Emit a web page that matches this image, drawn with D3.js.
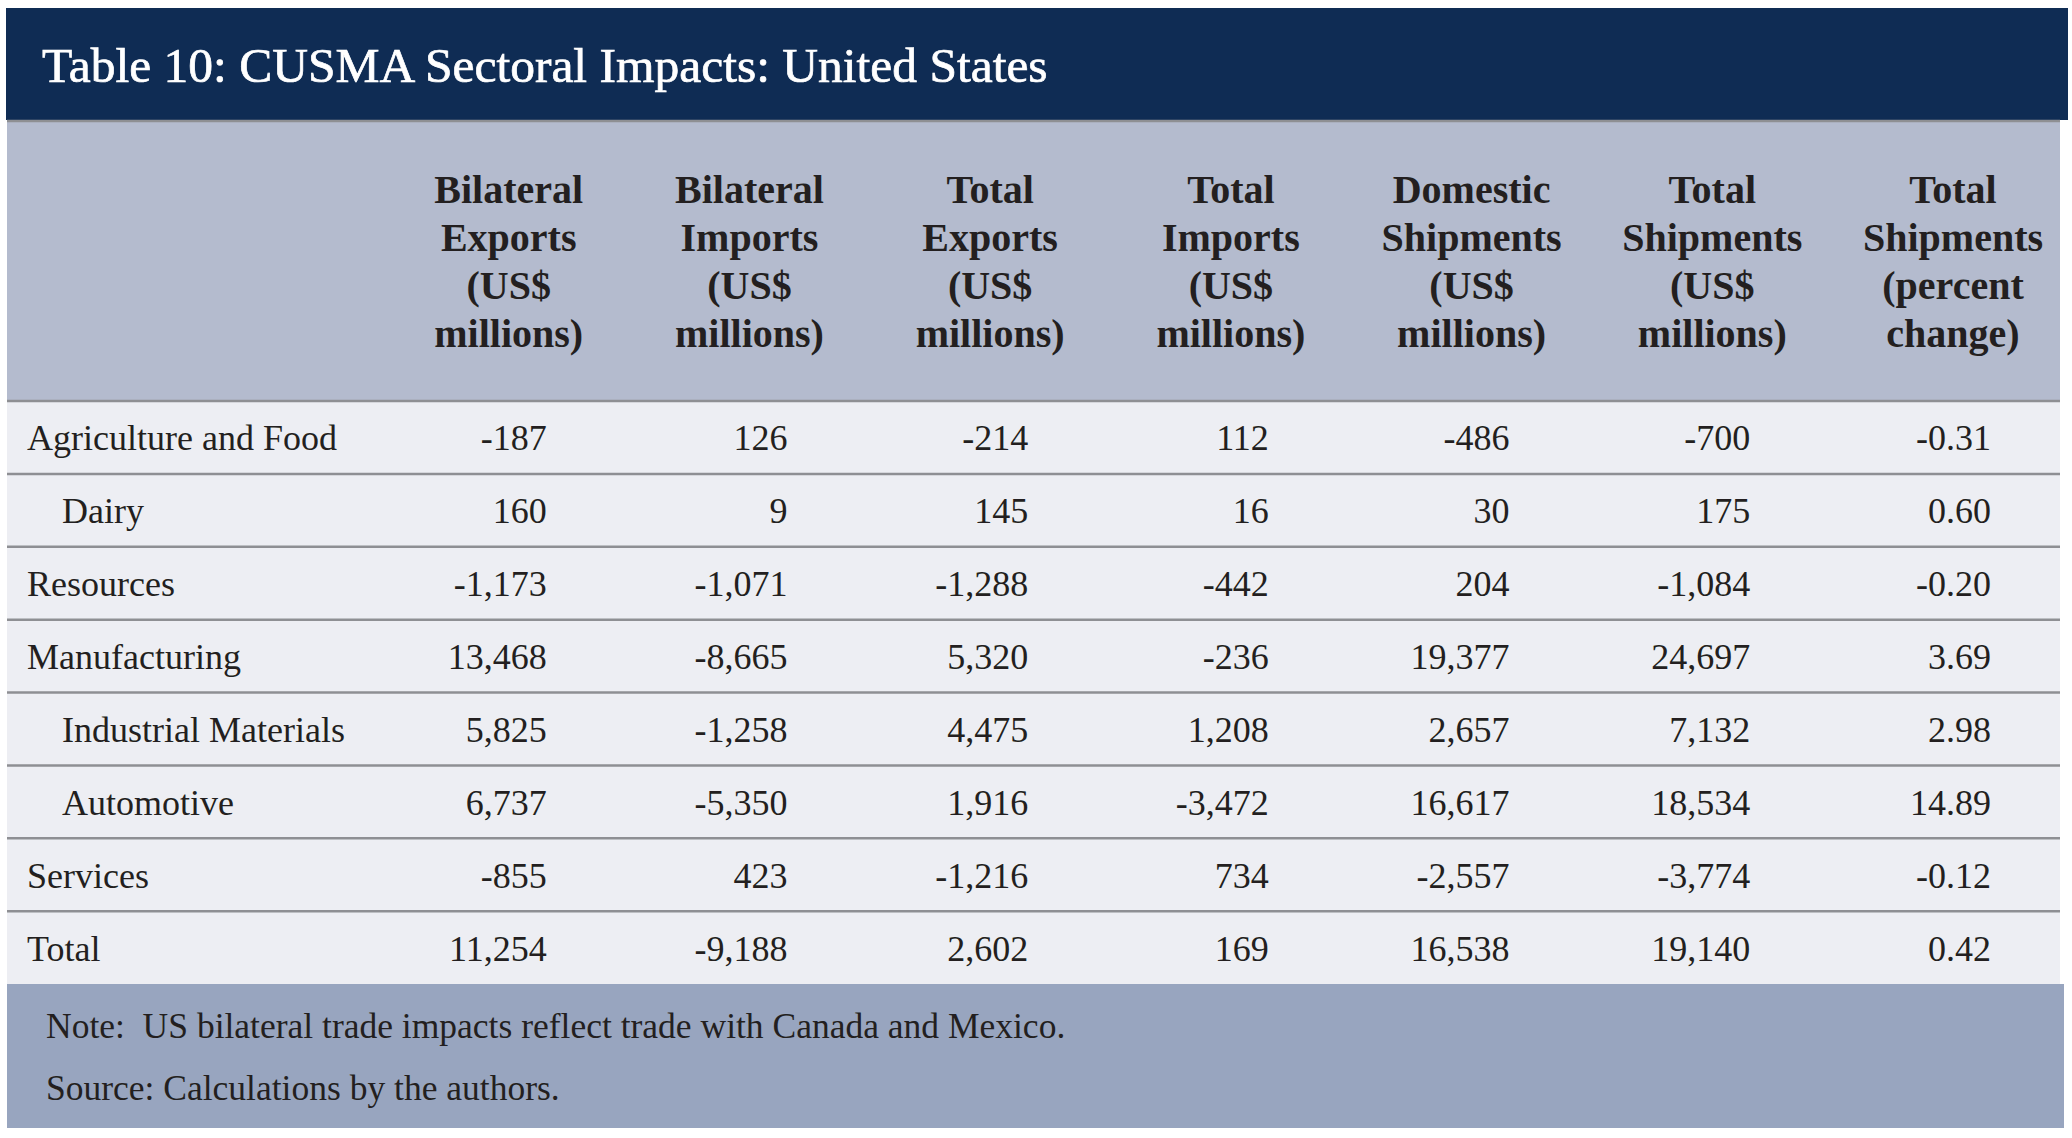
<!DOCTYPE html>
<html>
<head>
<meta charset="utf-8">
<script src="https://cdn.jsdelivr.net/npm/d3@7"></script>
<style>
  body { margin: 0; background: #fff; }
  svg { display: block; font-family: "Liberation Serif", "DejaVu Serif", serif; }
</style>
</head>
<body>
<svg></svg>
<script>
const title = "Table 10: CUSMA Sectoral Impacts: United States";

const sectors = ["Agriculture and Food", "Dairy", "Resources", "Manufacturing",
                 "Industrial Materials", "Automotive", "Services", "Total"];
const subSectors = ["Dairy", "Industrial Materials", "Automotive"];

const columns = ["bilExp", "bilImp", "totExp", "totImp", "domShip", "totShip", "pctShip"];
const headers = [
    ["Bilateral", "Exports", "(US$", "millions)"],
    ["Bilateral", "Imports", "(US$", "millions)"],
    ["Total", "Exports", "(US$", "millions)"],
    ["Total", "Imports", "(US$", "millions)"],
    ["Domestic", "Shipments", "(US$", "millions)"],
    ["Total", "Shipments", "(US$", "millions)"],
    ["Total", "Shipments", "(percent", "change)"]
];

const bilExp  = [-187, 160, -1173, 13468, 5825, 6737, -855, 11254];
const bilImp  = [126, 9, -1071, -8665, -1258, -5350, 423, -9188];
const totExp  = [-214, 145, -1288, 5320, 4475, 1916, -1216, 2602];
const totImp  = [112, 16, -442, -236, 1208, -3472, 734, 169];
const domShip = [-486, 30, 204, 19377, 2657, 16617, -2557, 16538];
const totShip = [-700, 175, -1084, 24697, 7132, 18534, -3774, 19140];
const pctShip = [-0.31, 0.60, -0.20, 3.69, 2.98, 14.89, -0.12, 0.42];

const notes = [
    "Note:  US bilateral trade impacts reflect trade with Canada and Mexico.",
    "Source: Calculations by the authors."
];

const W = 2072, H = 1138;
const svg = d3.select("svg")
    .attr("width", W)
    .attr("height", H);

const series = {bilExp, bilImp, totExp, totImp, domShip, totShip, pctShip};
// keep the plain hyphen for negatives, as the source does
const loc = d3.formatLocale({decimal: ".", thousands: ",", grouping: [3], currency: ["$", ""], minus: "-"});
const fmtInt = loc.format(","), fmtPct = loc.format(".2f");

const ink = "#231f20", rule = "#8e8f93";
const left = 7, right = 2060;

// title bar
svg.append("rect")
    .attr("x", 6).attr("y", 8)
    .attr("width", 2062).attr("height", 112)
    .attr("fill", "#0f2c54");

svg.append("text")
    .attr("x", 42).attr("y", 82)
    .attr("fill", "#fff")
    .attr("stroke", "#fff")
    .attr("stroke-width", 0.7)
    .attr("font-size", 49.5)
    .text(title);

// header
svg.append("rect")
    .attr("x", left).attr("y", 120)
    .attr("width", right - left).attr("height", 280)
    .attr("fill", "#b4bbce");

const x = d3.scaleBand()
    .domain(columns)
    .range([306, 1991]);

const y = d3.scaleBand()
    .domain(sectors)
    .range([401, 984]);

const hLine = d3.scaleLinear().domain([0, 3]).range([203, 347]);

svg.append("g")
    .selectAll("text")
    .data(columns)
    .join("text")
    .attr("text-anchor", "middle")
    .attr("font-weight", "bold")
    .attr("font-size", 40)
    .attr("fill", ink)
    .each(function(c, i) {
        d3.select(this).selectAll("tspan")
            .data(headers[i])
            .join("tspan")
            .attr("x", x(c) + x.bandwidth() - 38)
            .attr("y", (d, j) => hLine(j))
            .text(d => d);
    });

// body
svg.append("rect")
    .attr("x", left).attr("y", 400)
    .attr("width", right - left).attr("height", 584)
    .attr("fill", "#edeef3");

svg.append("g")
    .selectAll("line")
    .data(sectors)
    .join("line")
    .attr("x1", left).attr("x2", right)
    .attr("y1", d => y(d)).attr("y2", d => y(d))
    .attr("stroke", rule)
    .attr("stroke-width", 2.5);

svg.append("line")
    .attr("x1", left).attr("x2", right)
    .attr("y1", 121).attr("y2", 121)
    .attr("stroke", rule)
    .attr("stroke-width", 2.5);

const rows = svg.append("g")
    .selectAll("g")
    .data(sectors)
    .join("g")
    .attr("transform", d => `translate(0,${y(d) + y.bandwidth() / 2 + 13})`)
    .attr("font-size", 36)
    .attr("fill", ink);

rows.append("text")
    .attr("x", d => subSectors.includes(d) ? 62 : 27)
    .text(d => d);

rows.selectAll(".val")
    .data((d, i) => columns.map(c => ({c, v: series[c][i]})))
    .join("text")
    .attr("class", "val")
    .attr("text-anchor", "end")
    .attr("x", d => x(d.c) + x.bandwidth())
    .text(d => d.c === "pctShip" ? fmtPct(d.v) : fmtInt(d.v));

// notes
svg.append("rect")
    .attr("x", left).attr("y", 984)
    .attr("width", 2064 - left).attr("height", 144)
    .attr("fill", "#98a5bf");

svg.append("g")
    .selectAll("text")
    .data(notes)
    .join("text")
    .attr("x", 46)
    .attr("y", (d, i) => 1038 + i * 62)
    .attr("font-size", 35.5)
    .attr("fill", ink)
    .style("white-space", "pre")
    .text(d => d);
</script>
</body>
</html>
